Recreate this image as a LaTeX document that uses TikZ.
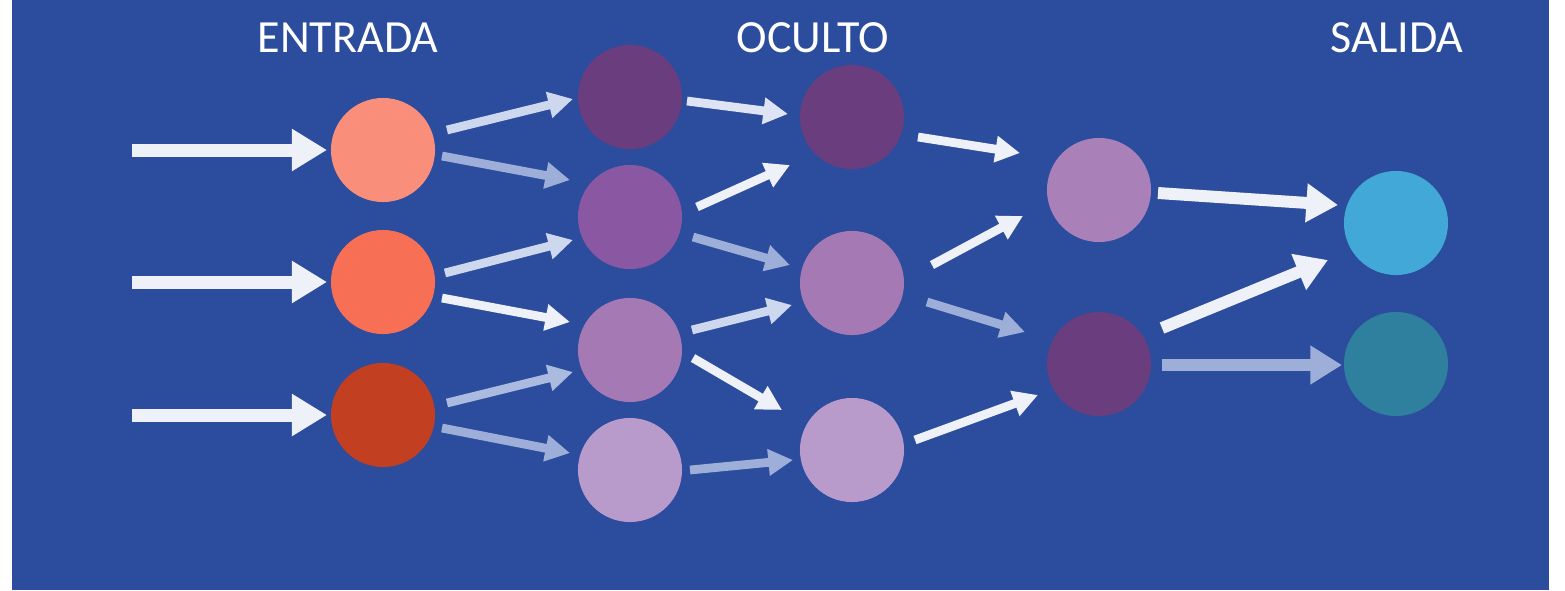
\documentclass[tikz,border=0pt]{standalone}
\usepackage{fontspec}
\setmainfont{Carlito}
\usetikzlibrary{arrows.meta,calc}
\definecolor{bg}{HTML}{2C4C9E}
\definecolor{cIa}{HTML}{F98E7A}
\definecolor{cIb}{HTML}{F76F55}
\definecolor{cIc}{HTML}{C23F22}
\definecolor{pdark}{HTML}{6A3D7E}
\definecolor{pmid}{HTML}{8A57A3}
\definecolor{plight}{HTML}{A479B4}
\definecolor{ppale}{HTML}{B89BCB}
\definecolor{cOa}{HTML}{41A8D8}
\definecolor{cOb}{HTML}{2E809E}
\definecolor{awhite}{HTML}{EEF1F7}
\definecolor{alight}{HTML}{CDD7EE}
\definecolor{agray}{HTML}{9DAFD9}
\tikzset{
  neuron/.style={circle, draw=none, inner sep=0pt, minimum size=1.04cm},
  label/.style={text=white, font=\fontsize{13.1}{15}\selectfont, anchor=base, inner sep=0pt},
  inarrow/.style={line width=3.7pt, -{Triangle[length=10pt,width=11.4pt]}},
  midarrow/.style={line width=2.5pt, -{Triangle[length=7pt,width=7.2pt]}},
  outarrow/.style={line width=3.4pt, -{Triangle[length=9pt,width=10.5pt]}}
}
\begin{document}
\begin{tikzpicture}[x=0.01cm,y=-0.01cm]
\useasboundingbox (0,0) rectangle (1565,590);
\fill[bg] (12,0) rectangle (1549,590);

\node[label] (tin) at (348,52) {ENTRADA};
\node[label] (thid) at (813,52) {OCULTO};
\node[label] (tout) at (1397,52) {SALIDA};

\node[neuron, fill=cIa] (i1) at (383,150) {};
\node[neuron, fill=cIb] (i2) at (383,282) {};
\node[neuron, fill=cIc] (i3) at (383,415) {};

\node[neuron, fill=pdark] (a1) at (630,97) {};
\node[neuron, fill=pmid] (a2) at (630,217) {};
\node[neuron, fill=plight] (a3) at (630,350) {};
\node[neuron, fill=ppale] (a4) at (630,470) {};

\node[neuron, fill=pdark] (b1) at (852,117) {};
\node[neuron, fill=plight] (b2) at (852,283) {};
\node[neuron, fill=ppale] (b3) at (852,450) {};

\node[neuron, fill=plight!95!white] (c1) at (1099,190) {};
\node[neuron, fill=pdark] (c2) at (1099,364) {};

\node[neuron, fill=cOa] (o1) at (1396,223) {};
\node[neuron, fill=cOb] (o2) at (1396,364) {};

\coordinate (s1) at (132,150);
\coordinate (s2) at (132,282);
\coordinate (s3) at (132,415);

\draw[inarrow, awhite] (s1) -- ($(i1)+(-56,0)$);
\draw[inarrow, awhite] (s2) -- ($(i2)+(-56,0)$);
\draw[inarrow, awhite] (s3) -- ($(i3)+(-56,0)$);

\draw[midarrow, alight] ($(i1)+(64,-20)$) -- ($(a1)+(-57,2)$);
\draw[midarrow, agray] ($(i1)+(59,6)$) -- ($(a2)+(-60,-37)$);
\draw[midarrow, alight] ($(i2)+(62,-9)$) -- ($(a2)+(-57,23)$);
\draw[midarrow, awhite] ($(i2)+(59,16)$) -- ($(a3)+(-60,-28)$);
\draw[midarrow, agray!70!alight] ($(i3)+(64,-12)$) -- ($(a3)+(-57,22)$);
\draw[midarrow, agray] ($(i3)+(59,13)$) -- ($(a4)+(-60,-17)$);

\draw[midarrow, alight!50!awhite] ($(a1)+(57,4)$) -- ($(b1)+(-64,-3)$);
\draw[midarrow, awhite] ($(a2)+(67,-10)$) -- ($(b1)+(-62,48)$);
\draw[midarrow, agray] ($(a2)+(63,20)$) -- ($(b2)+(-62,-18)$);
\draw[midarrow, alight] ($(a3)+(62,-20)$) -- ($(b2)+(-60,22)$);
\draw[midarrow, awhite] ($(a3)+(63,8)$) -- ($(b3)+(-70,-40)$);
\draw[midarrow, agray] ($(a4)+(60,0)$) -- ($(b3)+(-59,10)$);

\draw[midarrow, awhite] ($(b1)+(66,20)$) -- ($(c1)+(-79,-37)$);
\draw[midarrow, awhite] ($(b2)+(80,-18)$) -- ($(c1)+(-76,26)$);
\draw[midarrow, agray] ($(b2)+(75,19)$) -- ($(c2)+(-74,-32)$);
\draw[midarrow, awhite] ($(b3)+(63,-10)$) -- ($(c2)+(-61,31)$);

\draw[outarrow, awhite] ($(c1)+(59,3)$) -- ($(o1)+(-58,-18)$);
\draw[outarrow, awhite] ($(c2)+(63,-36)$) -- ($(o1)+(-68,37)$);
\draw[outarrow, agray] ($(c2)+(63,1)$) -- ($(o2)+(-54,1)$);
\end{tikzpicture}
\end{document}
